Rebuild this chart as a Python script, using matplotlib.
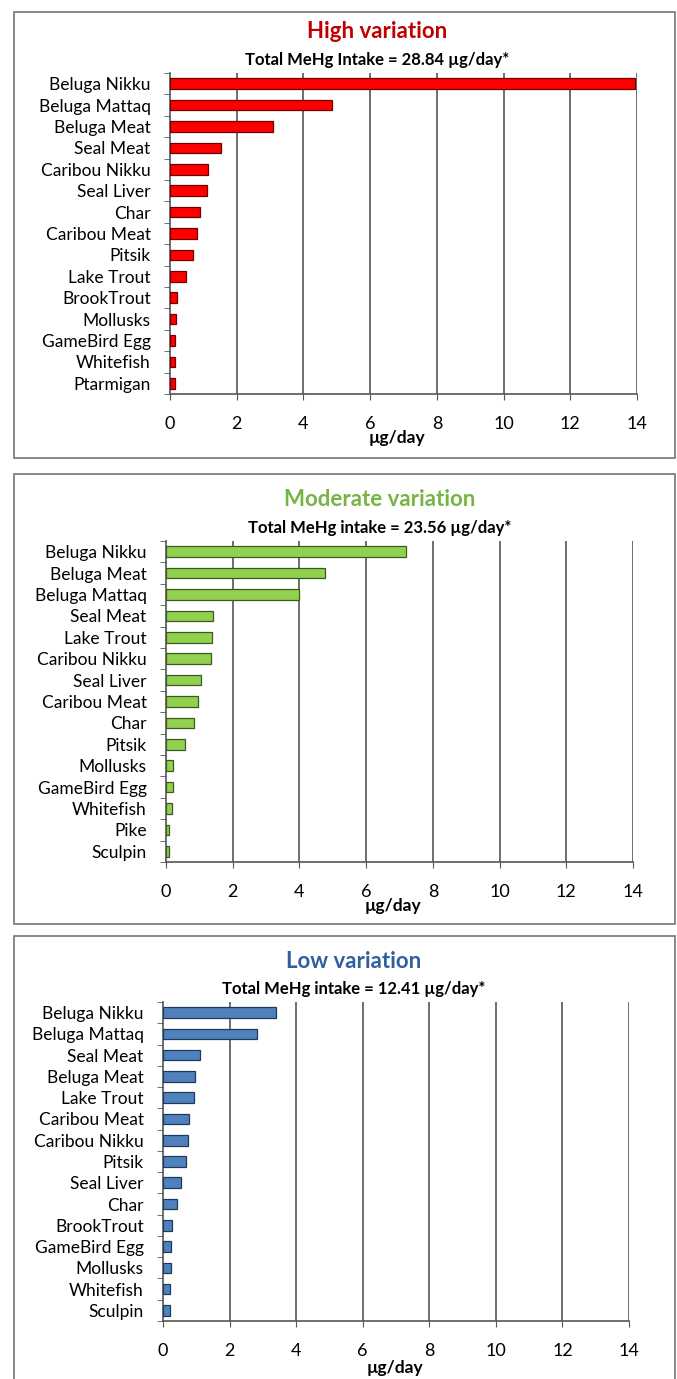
#MeHg intake by food item, three variation scenarios stacked vertically

import matplotlib.pyplot as plt
from matplotlib.patches import Rectangle

W, H = 677, 1379

high_foods = ["Beluga Nikku", "Beluga Mattaq", "Beluga Meat", "Seal Meat", "Caribou Nikku",
              "Seal Liver", "Char", "Caribou Meat", "Pitsik", "Lake Trout", "BrookTrout",
              "Mollusks", "GameBird Egg", "Whitefish", "Ptarmigan"]
high_vals = [13.95, 4.85, 3.1, 1.52, 1.14, 1.1, 0.9, 0.8, 0.7, 0.49, 0.22, 0.19, 0.15, 0.15, 0.14]

mod_foods = ["Beluga Nikku", "Beluga Meat", "Beluga Mattaq", "Seal Meat", "Lake Trout",
             "Caribou Nikku", "Seal Liver", "Caribou Meat", "Char", "Pitsik", "Mollusks",
             "GameBird Egg", "Whitefish", "Pike", "Sculpin"]
mod_vals = [7.2, 4.78, 4.0, 1.41, 1.39, 1.36, 1.04, 0.95, 0.84, 0.56, 0.22, 0.2, 0.17, 0.09, 0.08]

low_foods = ["Beluga Nikku", "Beluga Mattaq", "Seal Meat", "Beluga Meat", "Lake Trout",
             "Caribou Meat", "Caribou Nikku", "Pitsik", "Seal Liver", "Char", "BrookTrout",
             "GameBird Egg", "Mollusks", "Whitefish", "Sculpin"]
low_vals = [3.4, 2.83, 1.12, 0.97, 0.93, 0.77, 0.75, 0.68, 0.53, 0.42, 0.28, 0.24, 0.23, 0.22, 0.22]

xticks = [0, 2, 4, 6, 8, 10, 12, 14]

FONT = ["Lato", "DejaVu Sans"]

fig = plt.figure(figsize=(W / 100, H / 100), dpi=100)

# each panel: data, colours, title, subtitle, frame rows, axes box, title x, xlabel pos (px)
panels = [
    (high_foods, high_vals, "#ff0000", "#700000", "High variation", "#c00000",
     "Total MeHg Intake = 28.84 µg/day*", (12, 458), (170, 637, 73, 394), 377, (397, 438)),
    (mod_foods, mod_vals, "#92d050", "#3d5a1e", "Moderate variation", "#77b443",
     "Total MeHg intake = 23.56 µg/day*", (474, 924), (166, 633, 541, 862), 380, (393, 906)),
    (low_foods, low_vals, "#4f81bd", "#1f3a5c", "Low variation", "#2f5f9e",
     "Total MeHg intake = 12.41 µg/day*", (936, 1385), (163, 629, 1002, 1321), 354, (395, 1368)),
]

for foods, vals, col, ecol, title, tcol, sub, (btop, bbot), (x0, x1, ytop, ybot), cx, (lx, ly) in panels:
    # panel frame
    fig.patches.append(Rectangle((14 / W, 1 - bbot / H), 661 / W, (bbot - btop) / H,
                                 transform=fig.transFigure, fill=False,
                                 edgecolor="#7f7f7f", linewidth=1.3))
    fig.text(cx / W, 1 - (ytop - 41) / H, title, color=tcol, fontsize=16, fontweight="bold",
             ha="center", va="center", family=FONT)
    fig.text(cx / W, 1 - (ytop - 13) / H, sub, color="black", fontsize=12, fontweight="bold",
             ha="center", va="center", family=FONT)

    ax = fig.add_axes([x0 / W, 1 - ybot / H, (x1 - x0) / W, (ybot - ytop) / H])
    y = list(range(len(foods)))
    ax.barh(y, vals, height=0.5, color=col, edgecolor=ecol, linewidth=0.9, zorder=3)
    ax.set_xlim(0, 14)
    ax.set_ylim(len(foods) - 0.5, -0.5)
    ax.set_xticks(xticks)
    ax.set_xticklabels([str(t) for t in xticks], family=FONT, fontsize=13)
    ax.set_yticks(y)
    ax.set_yticklabels(foods, family=FONT, fontsize=12.5)
    ax.set_yticks([i - 0.5 for i in range(len(foods) + 1)], minor=True)
    ax.tick_params(axis="y", which="major", length=0, pad=14)
    ax.tick_params(axis="y", which="minor", length=4, color="#555555")
    ax.tick_params(axis="x", length=4, color="#555555", pad=12)
    lab = ax.set_xlabel("µg/day", family=FONT, fontsize=12.5, fontweight="bold")
    ax.xaxis.set_label_coords((lx - x0) / (x1 - x0), -(ly - ybot) / (ybot - ytop))
    lab.set_va("center")
    for t in xticks[1:]:
        ax.axvline(t, color="#555555", linewidth=1.2, zorder=1)
    for s in ["top", "right"]:
        ax.spines[s].set_visible(False)
    for s in ["left", "bottom"]:
        ax.spines[s].set_color("#555555")
        ax.spines[s].set_linewidth(1.2)

fig.savefig("out.png", dpi=100)
